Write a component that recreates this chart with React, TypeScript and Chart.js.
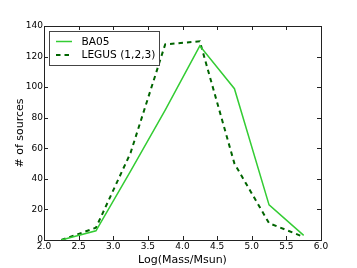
import React, { useEffect, useRef } from "react";
import { Chart, registerables } from "chart.js";

Chart.register(...registerables);

const massBins = [2.25, 2.75, 3.25, 3.75, 4.25, 4.75, 5.25, 5.75];
const ba05Counts = [0, 6, 45, 85, 127, 99, 23, 3];
const legusCounts = [0, 8, 57, 128, 130, 50, 11, 2];
const seriesLabels = ["BA05", "LEGUS (1,2,3)"];
const xTickValues = [2.0, 2.5, 3.0, 3.5, 4.0, 4.5, 5.0, 5.5, 6.0];
const yTickValues = [0, 20, 40, 60, 80, 100, 120, 140];
const xTitle = "Log(Mass/Msun)";
const yTitle = "# of sources";

const FONT = "'DejaVu Sans', sans-serif";

const framePlugin = {
  id: "mplFrame",
  afterDatasetsDraw(chart: any) {
    const { ctx, chartArea } = chart;
    const { left, right, top, bottom } = chartArea;
    const xs = chart.scales.x;
    const ys = chart.scales.y;
    ctx.save();
    ctx.strokeStyle = "#222";
    ctx.lineWidth = 1;
    // inward ticks
    const tl = 4;
    ctx.beginPath();
    xTickValues.forEach((v) => {
      const px = Math.round(xs.getPixelForValue(v)) + 0.5;
      ctx.moveTo(px, bottom);
      ctx.lineTo(px, bottom - tl);
      ctx.moveTo(px, top);
      ctx.lineTo(px, top + tl);
    });
    yTickValues.forEach((v) => {
      const py = Math.round(ys.getPixelForValue(v)) + 0.5;
      ctx.moveTo(left, py);
      ctx.lineTo(left + tl, py);
      ctx.moveTo(right, py);
      ctx.lineTo(right - tl, py);
    });
    ctx.stroke();
    // frame
    ctx.strokeRect(left + 0.5, top + 0.5, right - left, bottom - top);

    // legend
    const lx = left + 5;
    const ly = top + 5;
    const lw = 110;
    const lh = 34;
    ctx.fillStyle = "#ffffff";
    ctx.fillRect(lx + 0.5, ly + 0.5, lw, lh);
    ctx.strokeStyle = "#444";
    ctx.strokeRect(lx + 0.5, ly + 0.5, lw, lh);
    chart.data.datasets.forEach((ds: any, i: number) => {
      const y = ly + 10.5 + i * 13.5;
      ctx.save();
      ctx.strokeStyle = ds.borderColor;
      ctx.lineWidth = ds.borderWidth;
      ctx.setLineDash(ds.borderDash || []);
      ctx.beginPath();
      ctx.moveTo(lx + 7, y);
      ctx.lineTo(lx + 23, y);
      ctx.stroke();
      ctx.restore();
      ctx.fillStyle = "#000";
      ctx.font = `10.6px ${FONT}`;
      ctx.textBaseline = "middle";
      ctx.textAlign = "left";
      ctx.fillText(ds.label, lx + 32.5, y + 0.5);
    });
    ctx.restore();
  },
};

export default function App() {
  const ref = useRef<HTMLCanvasElement | null>(null);

  useEffect(() => {
    if (!ref.current) return;
    const chart = new Chart(ref.current, {
      type: "line",
      data: {
        datasets: [
          {
            label: seriesLabels[0],
            data: massBins.map((x, i) => ({ x, y: ba05Counts[i] })),
            borderColor: "#33cc33",
            borderWidth: 1.5,
            pointRadius: 0,
            tension: 0,
            fill: false,
          },
          {
            label: seriesLabels[1],
            data: massBins.map((x, i) => ({ x, y: legusCounts[i] })),
            borderColor: "#006400",
            borderWidth: 2,
            borderDash: [4.5, 4],
            pointRadius: 0,
            tension: 0,
            fill: false,
          },
        ],
      },
      options: {
        animation: false,
        responsive: false,
        devicePixelRatio: 1,
        layout: { padding: { top: 26, right: 36, left: 0, bottom: 0 } },
        plugins: { legend: { display: false }, tooltip: { enabled: false } },
        scales: {
          x: {
            type: "linear",
            min: 2,
            max: 6,
            afterBuildTicks: (scale: any) => {
              scale.ticks = xTickValues.map((v) => ({ value: v }));
            },
            afterFit: (scale: any) => {
              scale.height = 28;
            },
            grid: { display: false, drawTicks: false },
            border: { display: false },
            ticks: {
              padding: 1,
              color: "#000",
              font: { family: FONT, size: 9 },
              maxRotation: 0,
              autoSkip: false,
              callback: (v: any) => Number(v).toFixed(1),
            },
            title: {
              display: true,
              text: xTitle,
              color: "#000",
              font: { family: FONT, size: 11 },
              padding: { top: 0, bottom: 1 },
            },
          },
          y: {
            type: "linear",
            min: 0,
            max: 140,
            afterBuildTicks: (scale: any) => {
              scale.ticks = yTickValues.map((v) => ({ value: v }));
            },
            afterFit: (scale: any) => {
              scale.width = 44;
            },
            grid: { display: false, drawTicks: false },
            border: { display: false },
            ticks: {
              padding: 1,
              color: "#000",
              font: { family: FONT, size: 9 },
              autoSkip: false,
              callback: (v: any) => String(v),
            },
            title: {
              display: true,
              text: yTitle,
              color: "#000",
              font: { family: FONT, size: 11 },
              padding: { top: 14, bottom: 0 },
            },
          },
        },
      },
      plugins: [framePlugin],
    });
    return () => chart.destroy();
  }, []);

  return (
    <div style={{ position: "absolute", left: 0, top: 0, width: 357, height: 268, background: "#fff" }}>
      <canvas ref={ref} width={357} height={268} style={{ width: 357, height: 268, display: "block" }} />
    </div>
  );
}
